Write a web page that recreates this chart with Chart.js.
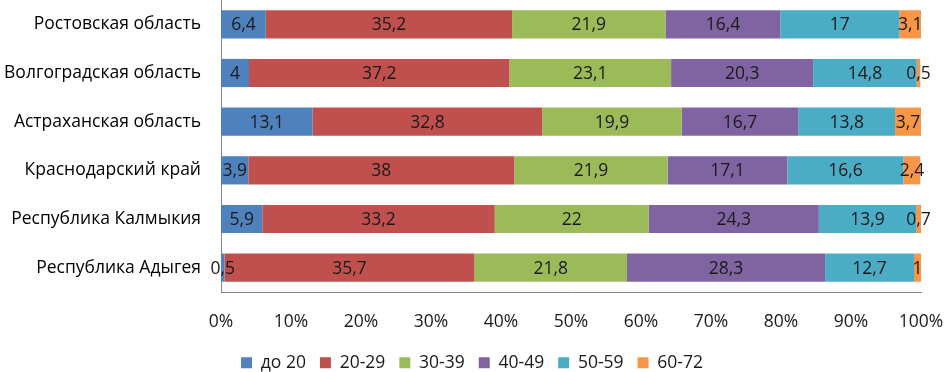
<!DOCTYPE html>
<html>
<head>
<meta charset="utf-8">
<script src="https://cdn.jsdelivr.net/npm/chart.js@4"></script>
<style>
  html, body { margin: 0; padding: 0; background: #fff; }
  #wrap { width: 944px; height: 372px; }
</style>
</head>
<body>
<div id="wrap"><canvas id="ageChart" width="944" height="372"></canvas></div>
<script>
const regions = [
    'Ростовская область',
    'Волгоградская область',
    'Астраханская область',
    'Краснодарский край',
    'Республика Калмыкия',
    'Республика Адыгея'
];

const ageGroups = ['до 20', '20-29', '30-39', '40-49', '50-59', '60-72'];

const under20 = [6.4, 4, 13.1, 3.9, 5.9, 0.5];
const age20to29 = [35.2, 37.2, 32.8, 38, 33.2, 35.7];
const age30to39 = [21.9, 23.1, 19.9, 21.9, 22, 21.8];
const age40to49 = [16.4, 20.3, 16.7, 17.1, 24.3, 28.3];
const age50to59 = [17, 14.8, 13.8, 16.6, 13.9, 12.7];
const age60to72 = [3.1, 0.5, 3.7, 2.4, 0.7, 1];

const xTicks = [0, 10, 20, 30, 40, 50, 60, 70, 80, 90, 100];

const seriesValues = [under20, age20to29, age30to39, age40to49, age50to59, age60to72];
const colors = ['#4F81BD', '#C0504D', '#9BBB59', '#8064A2', '#4BACC6', '#F79646'];

const FONT = '"Open Sans", Lato, sans-serif';
const FONT_SIZE = 17.5;

// labels in the middle of every segment, comma as decimal mark
const segmentLabels = {
    id: 'segmentLabels',
    afterDatasetsDraw(chart) {
        const ctx = chart.ctx;
        ctx.save();
        ctx.font = FONT_SIZE + 'px ' + FONT;
        ctx.fillStyle = '#1a1a1a';
        ctx.textAlign = 'center';
        ctx.textBaseline = 'middle';
        chart.data.datasets.forEach((ds, i) => {
            const meta = chart.getDatasetMeta(i);
            meta.data.forEach((bar, j) => {
                const cx = (bar.x + bar.base) / 2;
                ctx.fillText(String(ds.data[j]).replace('.', ','), cx, bar.y + 1);
            });
        });
        ctx.restore();
    }
};

// legend sits lower, keeps wide gaps between items
const legendHeight = {
    id: 'legendHeight',
    beforeInit(chart) {
        const fit = chart.legend.fit;
        chart.legend.fit = function () {
            fit.bind(chart.legend)();
            this.height = 32;
        };
    }
};

const ctx = document.getElementById('ageChart').getContext('2d');
const ageChart = new Chart(ctx, {
    type: 'bar',
    data: {
        labels: regions,
        datasets: ageGroups.map((name, i) => ({
            label: name,
            data: seriesValues[i],
            backgroundColor: colors[i],
            borderWidth: 0,
            barPercentage: 0.58,
            categoryPercentage: 1
        }))
    },
    options: {
        indexAxis: 'y',
        responsive: false,
        animation: false,
        layout: { padding: 0 },
        scales: {
            x: {
                stacked: true,
                min: 0,
                max: 100,
                afterBuildTicks: (scale) => {
                    scale.ticks = xTicks.map(v => ({ value: v }));
                },
                afterFit: (scale) => {
                    scale.height = 48;
                    scale.paddingLeft = 0;
                    scale.paddingRight = 23;
                },
                grid: { display: false },
                border: { display: true, color: '#868686', width: 1 },
                ticks: {
                    padding: 12,
                    color: '#1a1a1a',
                    font: { size: FONT_SIZE, family: FONT },
                    maxRotation: 0,
                    callback: (v) => v + '%'
                }
            },
            y: {
                stacked: true,
                afterFit: (scale) => {
                    scale.width = 221;
                    scale.paddingTop = 0;
                    scale.paddingBottom = 0;
                },
                grid: { display: false },
                border: { display: true, color: '#868686', width: 1 },
                ticks: {
                    padding: 12,
                    color: '#000',
                    font: { size: FONT_SIZE, family: FONT }
                }
            }
        },
        plugins: {
            legend: {
                position: 'bottom',
                labels: {
                    boxWidth: 11,
                    boxHeight: 11,
                    padding: 14,
                    color: '#1a1a1a',
                    font: { size: FONT_SIZE, family: FONT }
                }
            },
            tooltip: { enabled: false }
        }
    },
    plugins: [segmentLabels, legendHeight]
});
</script>
</body>
</html>
